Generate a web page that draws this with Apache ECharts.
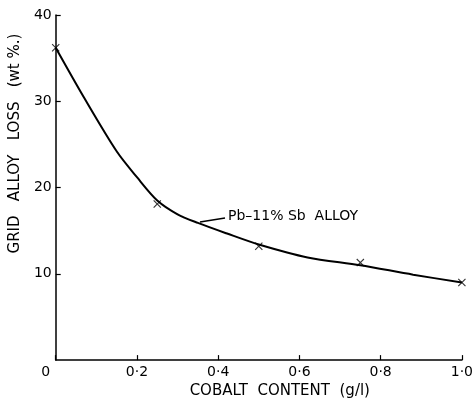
<!DOCTYPE html>
<html>
<head>
<meta charset="utf-8">
<script src="https://cdn.jsdelivr.net/npm/echarts@6/dist/echarts.min.js"></script>
<style>
  html, body { margin: 0; padding: 0; background: #fff; }
  #chart { width: 476px; height: 404px; }
</style>
</head>
<body>
<div id="chart"></div>
<script>
// measured points (x marks)
const cobalt = [0, 0.25, 0.5, 0.75, 1.0];
const loss = [36.2, 18.1, 13.2, 11.3, 9.0];

// the drawn curve
const curveX = [0, 0.07, 0.15, 0.20, 0.25, 0.30, 0.35, 0.42, 0.5, 0.62, 0.75, 0.88, 1.0];
const curveY = [36.2, 30.4, 24.2, 21.2, 18.5, 16.9, 15.9, 14.7, 13.4, 11.9, 11.0, 9.9, 9.0];

const xTicks = [0, 0.2, 0.4, 0.6, 0.8, 1.0];
const yTicks = [0, 10, 20, 30, 40];

const font = 'DejaVu Sans';
const crossMark = 'path://M0,1L1,0L5,4L9,0L10,1L6,5L10,9L9,10L5,6L1,10L0,9L4,5Z';

let chart = echarts.init(document.getElementById('chart'));

let option = {
  animation: false,
  backgroundColor: '#fff',
  grid: { left: 54, right: 8, top: 15, bottom: 42 },
  xAxis: {
    type: 'value',
    min: 0, max: 1, interval: 0.2,
    name: 'COBALT  CONTENT  (g/l)',
    nameLocation: 'middle',
    nameGap: 21,
    nameTextStyle: { color: '#000', fontFamily: font, fontSize: 15, padding: [0, 0, 0, 42] },
    axisLine: { lineStyle: { color: '#000', width: 1.5 } },
    axisTick: { inside: true, length: 5, lineStyle: { color: '#000', width: 1.2 } },
    axisLabel: {
      color: '#000', fontFamily: font, fontSize: 14, margin: 5,
      formatter: function (v) {
        if (v === 0) return '{z|0}';
        return xTicks.indexOf(v) >= 0 ? v.toFixed(1).replace('.', '·') : '';
      },
      rich: { z: { fontFamily: font, fontSize: 14, color: '#000', padding: [0, 20, 0, 0] } }
    },
    splitLine: { show: false }
  },
  yAxis: {
    type: 'value',
    min: 0, max: 40, interval: 10,
    name: 'GRID   ALLOY   LOSS   (wt %.)',
    nameLocation: 'middle',
    nameGap: 32,
    nameTextStyle: { color: '#000', fontFamily: font, fontSize: 15, padding: [0, 0, 0, 88] },
    axisLine: { show: true, lineStyle: { color: '#000', width: 1.5 } },
    axisTick: { show: true, inside: true, length: 5, lineStyle: { color: '#000', width: 1.2 } },
    axisLabel: {
      color: '#000', fontFamily: font, fontSize: 14, margin: 4,
      showMinLabel: false,
      formatter: function (v) { return yTicks.indexOf(v) >= 0 ? String(v) : ''; }
    },
    splitLine: { show: false }
  },
  series: [
    {
      name: 'curve',
      type: 'line',
      smooth: 0.3,
      symbol: 'none',
      data: curveX.map((x, i) => [x, curveY[i]]),
      lineStyle: { color: '#000', width: 2 },
      z: 2
    },
    {
      name: 'Pb-11% Sb alloy',
      type: 'scatter',
      symbol: crossMark,
      symbolSize: 8,
      data: cobalt.map((x, i) => [x, loss[i]]),
      itemStyle: { color: '#000' },
      z: 3
    }
  ],
  graphic: [
    {
      type: 'line',
      shape: { x1: 200, y1: 222, x2: 225, y2: 218 },
      style: { stroke: '#000', lineWidth: 1.3 }
    },
    {
      type: 'text',
      left: 228, top: 209,
      style: { text: 'Pb–11% Sb  ALLOY', fill: '#000', font: '14px "DejaVu Sans"' }
    }
  ]
};

chart.setOption(option);
</script>
</body>
</html>
